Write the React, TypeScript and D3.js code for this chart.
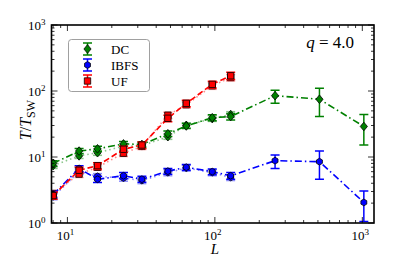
import React from 'react';
import * as d3 from 'd3';

const width = 415,
      height = 257;

// system sizes
const L_ALL = [8, 12, 16, 24, 32, 48, 64, 96, 128, 256, 512, 1024];
const L_SMALL = [8, 12, 16, 24, 32, 48, 64, 96, 128];

// DC
const dcMain = [8.0, 12.3, 13.3, 15.8, 15.5, 22.5, 29.5, 39.4, 41, 85, 75, 29];
const dcMainLo = [7.2, 11.2, 12.2, 14.5, 14.2, 20.4, 27, 35.5, 36.5, 65, 41, 15.2];
const dcMainHi = [8.8, 13.5, 14.5, 17.2, 16.9, 24.8, 32.2, 43.5, 45.5, 103, 110, 44];
const dcAlt = [7.4, 10.4, 11.6, 14.6, 14.8, 20.3, 30.2, 38.2, 44];
const dcAltLo = [6.7, 9.5, 10.6, 13.4, 13.6, 18.5, 27.6, 34.6, 39.8];
const dcAltHi = [8.2, 11.4, 12.7, 15.9, 16.1, 22.2, 33, 42.2, 48.6];

// IBFS
const ibMain = [2.7, 6.7, 4.6, 5.2, 4.6, 6.1, 7.0, 6.0, 5.2, 8.8, 8.5, 2.05];
const ibMainLo = [2.4, 6.0, 4.1, 4.7, 4.15, 5.5, 6.3, 5.4, 4.6, 6.7, 4.6, 1.05];
const ibMainHi = [3.0, 7.4, 5.1, 5.8, 5.1, 6.7, 7.7, 6.6, 5.8, 10.7, 12.3, 3.05];
const ibAlt = [2.5, 6.0, 5.1, 4.8, 4.4, 5.8, 6.8, 5.8, 4.9];
const ibAltLo = [2.25, 5.4, 4.6, 4.3, 3.95, 5.2, 6.1, 5.2, 4.4];
const ibAltHi = [2.75, 6.6, 5.6, 5.3, 4.85, 6.4, 7.5, 6.4, 5.4];

// UF
const ufMain = [2.6, 6.3, 7.4, 13.1, 15.2, 38.6, 65, 126, 170];
const ufMainLo = [2.3, 5.6, 6.6, 11.7, 13.5, 34.2, 57.5, 111, 150];
const ufMainHi = [2.9, 7.0, 8.2, 14.6, 16.9, 43, 72.5, 141, 192];
const ufAlt = [2.8, 5.5, 7.0, 11.4, 14.5, 43, 62, 120, 160];
const ufAltLo = [2.5, 4.9, 6.3, 10.2, 13, 38.3, 55.5, 106, 142];
const ufAltHi = [3.1, 6.1, 7.7, 12.7, 16.1, 47.7, 68.5, 134, 178];

const legendNames = ['DC', 'IBFS', 'UF'];
const xTickLabels = [10, 100, 1000];
const yTickLabels = [1, 10, 100, 1000];

const GREEN = '#008000', BLUE = '#0000ff', RED = '#ff0000';
const FONT = "'Liberation Serif', 'DejaVu Serif', serif";

const margin = { left: 51.5, right: 41, top: 25, bottom: 34 };
const x = d3.scaleLog().domain([7.8, 1200]).range([margin.left, width - margin.right]);
const y = d3.scaleLog().domain([1, 1000]).range([height - margin.bottom, margin.top]);

const diamond = (cx, cy) => `M${cx},${cy - 4.3}L${cx + 3.6},${cy}L${cx},${cy + 4.3}L${cx - 3.6},${cy}Z`;
const square = (cx, cy) => `M${cx - 3.2},${cy - 3.2}h6.4v6.4h-6.4Z`;
const hexagon = (cx, cy) => {
    const pts = d3.range(6).map(i => {
        const a = Math.PI / 6 + i * Math.PI / 3;
        return [cx + 3.4 * Math.cos(a), cy + 3.4 * Math.sin(a)];
    });
    return 'M' + pts.map(p => p.join(',')).join('L') + 'Z';
};

const series = [
    { L: L_SMALL, v: dcAlt, lo: dcAltLo, hi: dcAltHi, color: GREEN, marker: diamond, dash: '1.5,3', op: 0.45 },
    { L: L_SMALL, v: ibAlt, lo: ibAltLo, hi: ibAltHi, color: BLUE, marker: hexagon, dash: '1.5,3', op: 0.45 },
    { L: L_SMALL, v: ufAlt, lo: ufAltLo, hi: ufAltHi, color: RED, marker: square, dash: '1.5,3', op: 0.45 },
    { L: L_ALL, v: dcMain, lo: dcMainLo, hi: dcMainHi, color: GREEN, marker: diamond, dash: '7,3,1.5,3', op: 1 },
    { L: L_ALL, v: ibMain, lo: ibMainLo, hi: ibMainHi, color: BLUE, marker: hexagon, dash: '7,3,1.5,3', op: 1 },
    { L: L_SMALL, v: ufMain, lo: ufMainLo, hi: ufMainHi, color: RED, marker: square, dash: '6,3', op: 1 },
];

const line = d3.line<number>();

const Pow = ({ px, py, e, anchor }) => (
    <text x={px} y={py} textAnchor={anchor} fontFamily={FONT} fontSize={13}>
        10<tspan dy={-5} fontSize={9}>{e}</tspan>
    </text>
);

const App = () => {
    const x0 = margin.left, x1 = width - margin.right;
    const y0 = height - margin.bottom, y1 = margin.top;

    const xMinor = [];
    [1, 10, 100, 1000].forEach(d => d3.range(2, 10).forEach(k => {
        const t = d * k;
        if (t > 7.8 && t < 1200) xMinor.push(t);
    }));
    const yMinor = [];
    [1, 10, 100].forEach(d => d3.range(2, 10).forEach(k => yMinor.push(d * k)));

    const legendMarkers = [diamond, hexagon, square];
    const legendColors = [GREEN, BLUE, RED];

    return (
        <svg width={width} height={height} style={{ position: 'absolute', left: 0, top: 0 }}>
            <rect width={width} height={height} fill="#fff" />
            <defs>
                <clipPath id="plot"><rect x={x0} y={y1} width={x1 - x0} height={y0 - y1} /></clipPath>
            </defs>

            <g clipPath="url(#plot)">
                {series.map((s, i) => (
                    <g key={i}>
                        <g opacity={s.op}>
                            <path d={line(s.L.map((l, j) => [x(l), y(s.v[j])]))} fill="none"
                                  stroke={s.color} strokeWidth={1.6} strokeDasharray={s.dash} />
                            {s.L.map((l, j) => {
                                const cx = x(l), ya = y(s.lo[j]), yb = y(s.hi[j]);
                                return (
                                    <g key={j} stroke={s.color} strokeWidth={1.5}>
                                        <line x1={cx} x2={cx} y1={ya} y2={yb} />
                                        <line x1={cx - 4.5} x2={cx + 4.5} y1={ya} y2={ya} />
                                        <line x1={cx - 4.5} x2={cx + 4.5} y1={yb} y2={yb} />
                                    </g>
                                );
                            })}
                        </g>
                        {s.L.map((l, j) => (
                            <path key={'m' + j} d={s.marker(x(l), y(s.v[j]))} fill={s.color}
                                  stroke="#000" strokeWidth={0.8} />
                        ))}
                    </g>
                ))}
            </g>

            {/* ticks, inside on all four sides */}
            <g stroke="#000" strokeWidth={0.8}>
                {xTickLabels.map(t => (
                    <g key={'xt' + t}>
                        <line x1={x(t)} x2={x(t)} y1={y0} y2={y0 - 6} />
                        <line x1={x(t)} x2={x(t)} y1={y1} y2={y1 + 6} />
                    </g>
                ))}
                {xMinor.map(t => (
                    <g key={'xm' + t}>
                        <line x1={x(t)} x2={x(t)} y1={y0} y2={y0 - 3} />
                        <line x1={x(t)} x2={x(t)} y1={y1} y2={y1 + 3} />
                    </g>
                ))}
                {yTickLabels.map(t => (
                    <g key={'yt' + t}>
                        <line x1={x0} x2={x0 + 6} y1={y(t)} y2={y(t)} />
                        <line x1={x1} x2={x1 - 6} y1={y(t)} y2={y(t)} />
                    </g>
                ))}
                {yMinor.map(t => (
                    <g key={'ym' + t}>
                        <line x1={x0} x2={x0 + 3} y1={y(t)} y2={y(t)} />
                        <line x1={x1} x2={x1 - 3} y1={y(t)} y2={y(t)} />
                    </g>
                ))}
            </g>
            <rect x={x0} y={y1} width={x1 - x0} height={y0 - y1} fill="none" stroke="#000" strokeWidth={1.6} />

            {xTickLabels.map((t, i) => (
                <Pow key={'xl' + t} px={x(t) - 2} py={y0 + 17} e={i + 1} anchor="middle" />
            ))}
            {yTickLabels.map((t, i) => (
                <Pow key={'yl' + t} px={x0 - 6} py={y(t) + 5} e={i} anchor="end" />
            ))}

            <text x={x(100)} y={254} textAnchor="middle" fontFamily={FONT}
                  fontStyle="italic" fontSize={15}>L</text>
            <text transform={`translate(31,${(y0 + y1) / 2 - 4}) rotate(-90)`} textAnchor="middle"
                  fontFamily={FONT} fontSize={16}>
                <tspan fontStyle="italic">T</tspan>/<tspan fontStyle="italic">T</tspan>
                <tspan dy={4} fontSize={12}>SW</tspan>
            </text>

            <text x={354} y={48} textAnchor="end" fontFamily={FONT} fontSize={17}>
                <tspan fontStyle="italic">q</tspan> = 4.0
            </text>

            {/* legend */}
            <rect x={68.5} y={39.5} width={81} height={52} rx={3} fill="#fff" stroke="#888" strokeWidth={0.8} />
            {legendNames.map((n, i) => {
                const cy = 49 + i * 16, cx = 87.5;
                return (
                    <g key={n}>
                        <g stroke={legendColors[i]} strokeWidth={1.5}>
                            <line x1={cx} x2={cx} y1={cy - 6} y2={cy + 6} />
                            <line x1={cx - 4.5} x2={cx + 4.5} y1={cy - 6} y2={cy - 6} />
                            <line x1={cx - 4.5} x2={cx + 4.5} y1={cy + 6} y2={cy + 6} />
                        </g>
                        <path d={legendMarkers[i](cx, cy)} fill={legendColors[i]} stroke="#000" strokeWidth={0.8} />
                        <text x={111} y={cy + 4.5} fontFamily={FONT} fontSize={13}>{n}</text>
                    </g>
                );
            })}
        </svg>
    );
};

export default App;
